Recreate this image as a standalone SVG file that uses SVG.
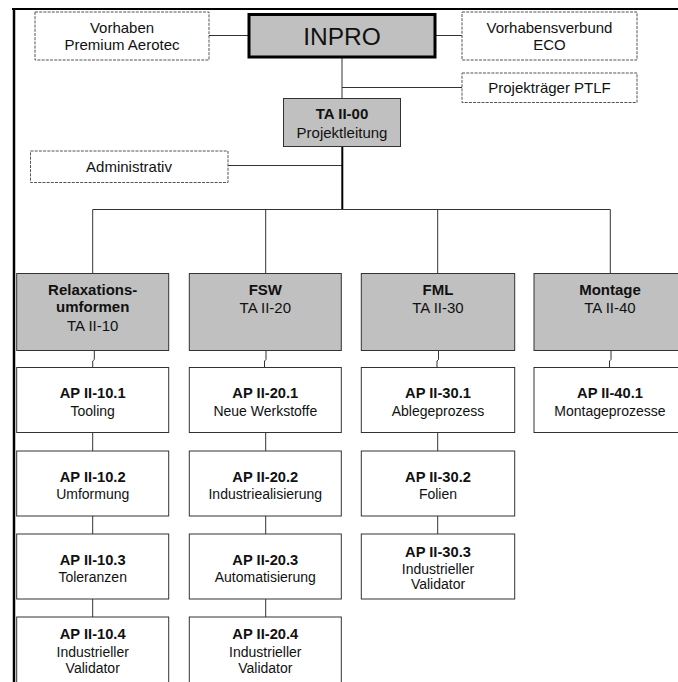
<svg xmlns="http://www.w3.org/2000/svg" width="678" height="682" viewBox="0 0 678 682">
<style>
text{font-family:"Liberation Sans",Arial,sans-serif;fill:#111;text-anchor:middle}
.b{font-weight:bold}
.s15{font-size:15px}
.s14{font-size:14px}
.t14{font-size:14.7px;font-weight:bold}
.dash{fill:#fff;stroke:#555;stroke-width:1;stroke-dasharray:3 1.2}
.gray{fill:#c0c0c0;stroke:#333;stroke-width:1}
.white{fill:#fff;stroke:#333;stroke-width:1}
.ln{fill:none;stroke:#333;stroke-width:1}
</style>
<rect x="0" y="0" width="678" height="682" fill="#fff"/>
<g id="frame">
<line x1="12" y1="9" x2="678" y2="9" stroke="#000" stroke-width="2"/>
<line x1="14" y1="8" x2="14" y2="682" stroke="#000" stroke-width="2.5"/>
</g>
<g id="connectors">
<line class="ln" x1="209" y1="35.5" x2="249" y2="35.5"/>
<line class="ln" x1="435" y1="35.5" x2="462" y2="35.5"/>
<line class="ln" x1="342" y1="57" x2="342" y2="98"/>
<line class="ln" x1="342" y1="87.5" x2="462" y2="87.5"/>
<line class="ln" x1="228" y1="165.5" x2="342" y2="165.5"/>
<line x1="342.3" y1="147" x2="342.3" y2="210" stroke="#000" stroke-width="2"/>
<polyline class="ln" points="92.7,273.5 92.7,209.5 610.3,209.5 610.3,273.5"/>
<line class="ln" x1="265.7" y1="209.5" x2="265.7" y2="273.5"/>
<line class="ln" x1="437.7" y1="209.5" x2="437.7" y2="273.5"/>
<polyline class="ln" points="94.3,350.5 94.3,359.5 92.7,361 92.7,367.5"/>
<polyline class="ln" points="266,350.5 266,359.5 264.5,361 264.5,367.5"/>
<polyline class="ln" points="438.5,350.5 438.5,359.5 437,361 437,367.5"/>
<polyline class="ln" points="611,350.5 611,359.5 609.5,361 609.5,367.5"/>
<line class="ln" x1="92.7" y1="432.5" x2="92.7" y2="451"/>
<line class="ln" x1="92.7" y1="516" x2="92.7" y2="534"/>
<line class="ln" x1="92.7" y1="599" x2="92.7" y2="617"/>
<line class="ln" x1="265.7" y1="432.5" x2="265.7" y2="451"/>
<line class="ln" x1="265.7" y1="516" x2="265.7" y2="534"/>
<line class="ln" x1="265.7" y1="599" x2="265.7" y2="617"/>
<line class="ln" x1="437.7" y1="432.5" x2="437.7" y2="451"/>
<line class="ln" x1="437.7" y1="516" x2="437.7" y2="534"/>
</g>
<g id="premium">
<rect class="dash" x="35" y="12" width="174" height="48"/>
<text class="s15" x="122" y="32.5">Vorhaben</text>
<text class="s15" x="122" y="50">Premium Aerotec</text>
</g>
<g id="inpro">
<rect x="249" y="14.5" width="186" height="42.5" fill="#c0c0c0" stroke="#000" stroke-width="3"/>
<text x="342" y="44.5" style="font-size:24.5px">INPRO</text>
</g>
<g id="eco">
<rect class="dash" x="462" y="12" width="175" height="48"/>
<text class="s15" x="549.5" y="32.5">Vorhabensverbund</text>
<text class="s15" x="549.5" y="50">ECO</text>
</g>
<g id="ptlf">
<rect class="dash" x="462" y="73" width="175" height="29.5"/>
<text class="s15" x="549.5" y="92.5">Projekträger PTLF</text>
</g>
<g id="ta00">
<rect class="gray" x="283.5" y="98.5" width="117" height="48"/>
<text class="s15 b" x="342" y="118.5">TA II-00</text>
<text class="s15" x="342" y="137.5">Projektleitung</text>
</g>
<g id="admin">
<rect class="dash" x="30.5" y="151" width="197.5" height="31.5"/>
<text class="s15" x="129" y="172.3">Administrativ</text>
</g>
<g id="ta10">
<rect class="gray" x="16.7" y="273.5" width="152" height="77"/>
<text class="s15 b" x="92.7" y="295">Relaxations-</text>
<text class="s15 b" x="92.7" y="312">umformen</text>
<text class="s15" x="92.7" y="331">TA II-10</text>
</g>
<g id="ta20">
<rect class="gray" x="189.3" y="273.5" width="152" height="77"/>
<text class="s15 b" x="265.3" y="294.5">FSW</text>
<text class="s15" x="265.3" y="312.5">TA II-20</text>
</g>
<g id="ta30">
<rect class="gray" x="361.3" y="273.5" width="153.4" height="77"/>
<text class="s15 b" x="438" y="294.5">FML</text>
<text class="s15" x="438" y="312.5">TA II-30</text>
</g>
<g id="ta40">
<rect class="gray" x="534" y="273.5" width="152" height="77"/>
<text class="s15 b" x="610" y="294.5">Montage</text>
<text class="s15" x="610" y="312.5">TA II-40</text>
</g>
<g id="ap101">
<rect class="white" x="16.7" y="367.5" width="152" height="65"/>
<text class="t14" x="92.7" y="397.5">AP II-10.1</text>
<text class="s14" x="92.7" y="415.5">Tooling</text>
</g>
<g id="ap102">
<rect class="white" x="16.7" y="451" width="152" height="65"/>
<text class="t14" x="92.7" y="481.5">AP II-10.2</text>
<text class="s14" x="92.7" y="499.3">Umformung</text>
</g>
<g id="ap103">
<rect class="white" x="16.7" y="534" width="152" height="65"/>
<text class="t14" x="92.7" y="565">AP II-10.3</text>
<text class="s14" x="92.7" y="581.7">Toleranzen</text>
</g>
<g id="ap104">
<rect class="white" x="16.7" y="617" width="152" height="70"/>
<text class="t14" x="92.7" y="639">AP II-10.4</text>
<text class="s14" x="92.7" y="657.3">Industrieller</text>
<text class="s14" x="92.7" y="673.3">Validator</text>
</g>
<g id="ap201">
<rect class="white" x="189.3" y="367.5" width="152" height="65"/>
<text class="t14" x="265.3" y="397.5">AP II-20.1</text>
<text class="s14" x="265.3" y="415.5">Neue Werkstoffe</text>
</g>
<g id="ap202">
<rect class="white" x="189.3" y="451" width="152" height="65"/>
<text class="t14" x="265.3" y="481.5">AP II-20.2</text>
<text class="s14" x="265.3" y="499.3">Industriealisierung</text>
</g>
<g id="ap203">
<rect class="white" x="189.3" y="534" width="152" height="65"/>
<text class="t14" x="265.3" y="565">AP II-20.3</text>
<text class="s14" x="265.3" y="581.7">Automatisierung</text>
</g>
<g id="ap204">
<rect class="white" x="189.3" y="617" width="152" height="70"/>
<text class="t14" x="265.3" y="639">AP II-20.4</text>
<text class="s14" x="265.3" y="657.3">Industrieller</text>
<text class="s14" x="265.3" y="673.3">Validator</text>
</g>
<g id="ap301">
<rect class="white" x="361.3" y="367.5" width="153.4" height="65"/>
<text class="t14" x="438" y="397.5">AP II-30.1</text>
<text class="s14" x="438" y="415.5">Ablegeprozess</text>
</g>
<g id="ap302">
<rect class="white" x="361.3" y="451" width="153.4" height="65"/>
<text class="t14" x="438" y="481.5">AP II-30.2</text>
<text class="s14" x="438" y="499.3">Folien</text>
</g>
<g id="ap303">
<rect class="white" x="361.3" y="534" width="153.4" height="65"/>
<text class="t14" x="438" y="557.3">AP II-30.3</text>
<text class="s14" x="438" y="574">Industrieller</text>
<text class="s14" x="438" y="589.3">Validator</text>
</g>
<g id="ap401">
<rect class="white" x="534" y="367.5" width="152" height="65"/>
<text class="t14" x="610" y="397.5">AP II-40.1</text>
<text class="s14" x="610" y="415.5">Montageprozesse</text>
</g>
</svg>
